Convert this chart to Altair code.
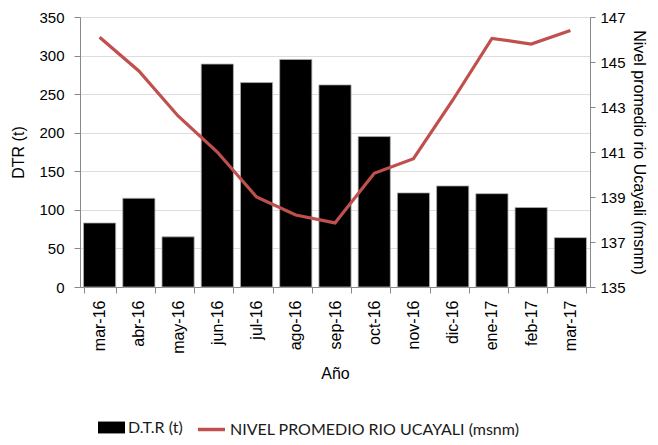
import altair as alt
import pandas as pd

months = ["mar-16", "abr-16", "may-16", "jun-16", "jul-16", "ago-16", "sep-16",
          "oct-16", "nov-16", "dic-16", "ene-17", "feb-17", "mar-17"]
dtr = [83, 115, 65, 289, 265, 295, 262, 195, 122, 131, 121, 103, 64]
nivel = [146.1, 144.6, 142.6, 141.0, 139.0, 138.2, 137.85, 140.05, 140.7, 143.3, 146.05, 145.8, 146.4]

bar_name = "D.T.R (t)"
line_name = "NIVEL PROMEDIO RIO UCAYALI (msnm)"

df = pd.DataFrame({"mes": months, "dtr": dtr, "nivel": nivel,
                   "s1": [bar_name] * len(months), "s2": [line_name] * len(months)})

FONT = "Lato"
AX = "#868686"
TXT = "#1a1a1a"

xenc = alt.X("mes:N", sort=months,
             scale=alt.Scale(paddingInner=0.18, paddingOuter=0.09),
             axis=alt.Axis(title="Año", labelAngle=270, tickBand="extent",
                           labelFontSize=16, titleFontSize=16, titlePadding=12,
                           titleFontWeight="normal", labelPadding=7, tickSize=6))

bars = alt.Chart(df).mark_bar(stroke="#b0b0b0", strokeWidth=0.8).encode(
    x=xenc,
    y=alt.Y("dtr:Q", scale=alt.Scale(domain=[0, 350]),
            axis=alt.Axis(title="DTR (t)", values=list(range(0, 351, 50)),
                          orient="left", titleFontSize=16, labelFontSize=15,
                          titleFontWeight="normal", tickSize=6, labelPadding=10,
                          titlePadding=12)),
    fill=alt.Fill("s1:N", scale=alt.Scale(domain=[bar_name], range=["#000000"]),
                  legend=alt.Legend(title=None, orient="none", legendX=18, legendY=397,
                                    symbolType="M-1,-0.44H1V0.44H-1Z", symbolSize=729,
                                    symbolStrokeWidth=0, labelFontSize=16, labelFont=FONT,
                                    labelColor=TXT, labelOffset=3, labelLimit=400)),
)

line = alt.Chart(df).mark_line(strokeWidth=3.2).encode(
    x=alt.X("mes:N", sort=months),
    y=alt.Y("nivel:Q", scale=alt.Scale(domain=[135, 147]),
            axis=alt.Axis(title="Nivel promedio rio Ucayali (msnm)", orient="right",
                          values=list(range(135, 148, 2)), titleFontSize=16,
                          titleFontWeight="normal", labelFontSize=15, tickSize=5,
                          labelPadding=5, titlePadding=5)),
    stroke=alt.Stroke("s2:N", scale=alt.Scale(domain=[line_name], range=["#C0504D"]),
                      legend=alt.Legend(title=None, orient="none", legendX=116, legendY=397,
                                        symbolType="stroke", symbolSize=729,
                                        symbolStrokeWidth=3.5, labelFontSize=16,
                                        labelFont=FONT, labelColor=TXT, labelOffset=3,
                                        labelLimit=400)),
)

chart = alt.layer(bars, line).resolve_scale(y="independent", fill="independent",
                                            stroke="independent").properties(
    width=510, height=270,
    autosize=alt.AutoSizeParams(type="none"),
    padding={"left": 72, "top": 9, "right": 60, "bottom": 150},
).configure_view(stroke=None).configure_axis(
    grid=False, domainColor=AX, tickColor=AX, labelColor=TXT, titleColor=TXT,
    labelFont=FONT, titleFont=FONT,
).configure(background="white")

chart.save("out.html", embed_options={"renderer": "svg", "actions": False})
